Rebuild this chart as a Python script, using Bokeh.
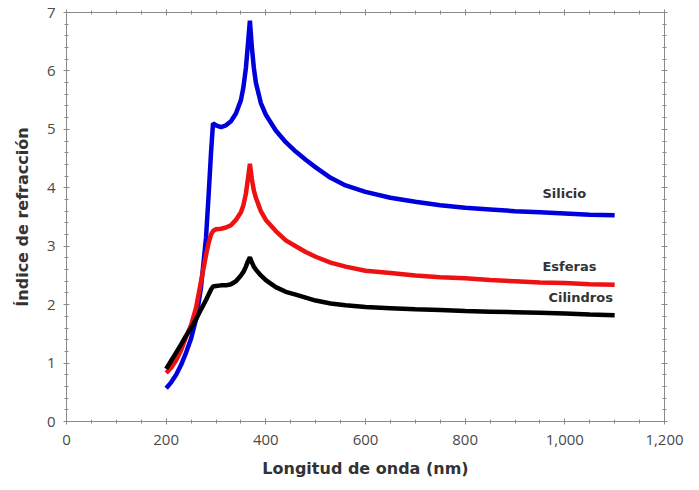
from bokeh.plotting import figure
from bokeh.models import LinearAxis, NumeralTickFormatter, Label, Range1d, FixedTicker, CustomJSTickFormatter
from bokeh.embed import file_html
from bokeh.resources import INLINE

# Wavelength grid (nm)
wavelength = [200, 210, 220, 230, 240, 250, 260, 270, 280, 285, 290, 294, 300, 310, 320, 330,
              340, 350, 355, 360, 364, 368, 372, 376, 380, 390, 400, 420, 440, 460, 480, 500,
              530, 560, 600, 650, 700, 750, 800, 850, 900, 950, 1000, 1050, 1100]

silicio = [0.57, 0.67, 0.80, 0.97, 1.18, 1.42, 1.75, 2.30, 3.15, 3.85, 4.60, 5.10, 5.07, 5.04, 5.07, 5.14,
           5.27, 5.50, 5.72, 6.05, 6.45, 6.86, 6.40, 6.05, 5.80, 5.45, 5.25, 4.98, 4.78, 4.62, 4.48, 4.35,
           4.17, 4.04, 3.93, 3.83, 3.76, 3.70, 3.66, 3.63, 3.60, 3.58, 3.56, 3.54, 3.53]

esferas = [0.83, 0.92, 1.05, 1.22, 1.45, 1.65, 1.95, 2.40, 2.85, 3.05, 3.20, 3.26, 3.29, 3.30, 3.32, 3.36,
           3.45, 3.58, 3.70, 3.90, 4.15, 4.41, 4.15, 3.95, 3.83, 3.60, 3.45, 3.26, 3.10, 3.00, 2.90, 2.82,
           2.72, 2.65, 2.58, 2.54, 2.50, 2.47, 2.45, 2.42, 2.40, 2.38, 2.37, 2.35, 2.34]

cilindros = [0.90, 1.04, 1.18, 1.32, 1.47, 1.60, 1.75, 1.92, 2.08, 2.17, 2.26, 2.31, 2.32, 2.33, 2.33, 2.35,
             2.40, 2.50, 2.56, 2.65, 2.74, 2.81, 2.72, 2.65, 2.60, 2.50, 2.42, 2.30, 2.22, 2.17, 2.12, 2.07,
             2.02, 1.99, 1.96, 1.94, 1.92, 1.91, 1.89, 1.88, 1.87, 1.86, 1.85, 1.83, 1.82]

series_names = ["Silicio", "Esferas", "Cilindros"]
series_colors = ["#0000dd", "#ee1111", "#000000"]
label_pos = [(955, 3.9), (955, 2.65), (967, 2.12)]

x_ticks = [0, 200, 400, 600, 800, 1000, 1200]
y_ticks = [0, 1, 2, 3, 4, 5, 6, 7]

AXIS_COLOR = "#8a8a8a"
LABEL_COLOR = "#4a4a4a"

p = figure(width=699, height=490, output_backend="svg", toolbar_location=None,
           x_range=Range1d(0, 1200), y_range=Range1d(0, 7),
           min_border_left=66, min_border_right=35, min_border_top=12, min_border_bottom=69)
p.xgrid.visible = False
p.ygrid.visible = False
p.outline_line_color = None
p.background_fill_color = "white"
p.border_fill_color = "white"

for ys, c in zip([silicio, esferas, cilindros], series_colors):
    p.line(wavelength, ys, line_color=c, line_width=4.5)

def style_axis(ax):
    ax.axis_line_color = AXIS_COLOR
    ax.major_tick_line_color = AXIS_COLOR
    ax.minor_tick_line_color = AXIS_COLOR
    ax.major_tick_in = 3
    ax.major_tick_out = 3
    ax.minor_tick_in = 2
    ax.minor_tick_out = 2
    ax.major_label_text_color = LABEL_COLOR
    ax.major_label_text_font = "Open Sans"
    ax.major_label_text_font_size = "15px"
    ax.axis_label_text_font = "DejaVu Sans"
    ax.axis_label_text_font_style = "bold"
    ax.axis_label_text_color = "#333333"
    ax.axis_label_text_font_size = "16px"

xt = FixedTicker(ticks=x_ticks, minor_ticks=list(range(0, 1201, 50)))
yt = FixedTicker(ticks=y_ticks, minor_ticks=[i * 0.2 for i in range(36)])

p.xaxis.ticker = xt
p.yaxis.ticker = yt
p.xaxis.formatter = NumeralTickFormatter(format="0,0")
p.xaxis.axis_label = "Longitud de onda (nm)"
p.yaxis.axis_label = "Índice de refracción"
style_axis(p.xaxis[0])
style_axis(p.yaxis[0])
p.xaxis.major_label_standoff = 10
p.yaxis.major_label_standoff = 8
p.xaxis.axis_label_standoff = 11
p.yaxis.axis_label_standoff = 12

blank = CustomJSTickFormatter(code="return ''")
top = LinearAxis(ticker=xt, formatter=blank)
right = LinearAxis(ticker=yt, formatter=blank)
for ax in (top, right):
    style_axis(ax)
    ax.major_label_standoff = 0
p.add_layout(top, "above")
p.add_layout(right, "right")

for name, (lx, ly) in zip(series_names, label_pos):
    p.add_layout(Label(x=lx, y=ly, text=name, text_font="DejaVu Sans", text_font_style="bold",
                       text_font_size="13px", text_color="#333333", text_baseline="middle",
                       text_align="left"))

open("out.html", "w").write(file_html(p, INLINE))
